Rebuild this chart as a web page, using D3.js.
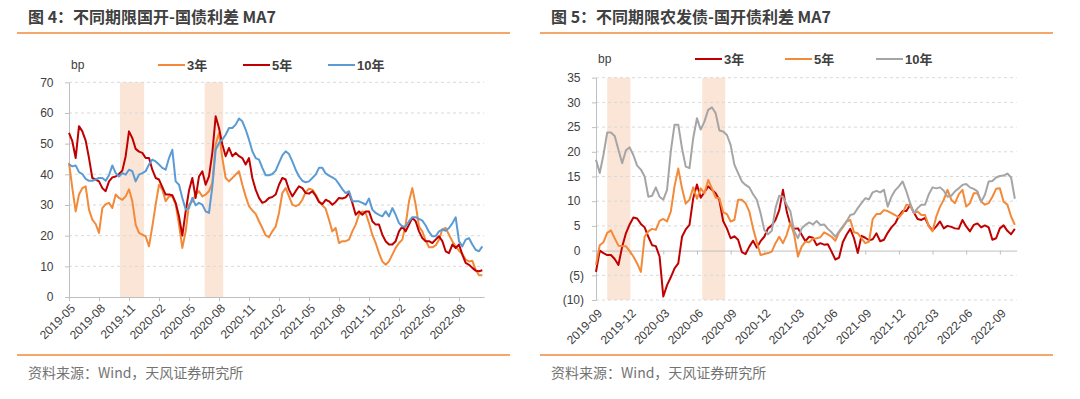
<!DOCTYPE html>
<html>
<head>
<meta charset="utf-8">
<script src="https://cdn.jsdelivr.net/npm/d3@7"></script>
<style>
  body { margin: 0; background: #fff; }
  svg { display: block; }
</style>
</head>
<body>
<script>
// ---- data (MA7 spreads, bp), sampled three times a month ----
const seriesNames = ["3年", "5年", "10年"];

// left: 国开-国债, first sample 2019-05-01
const leftStart = "2019-05";
const leftTicks = ["2019-05", "2019-08", "2019-11", "2020-02", "2020-05", "2020-08", "2020-11",
  "2021-02", "2021-05", "2021-08", "2021-11", "2022-02", "2022-05", "2022-08"];
const leftYTicks = [0, 10, 20, 30, 40, 50, 60, 70];
const leftBands = [["2019-10-04", "2019-12-17"], ["2020-06-18", "2020-08-14"]];
const left3y = [43.7, 35.5, 27.9, 33.4, 35.5, 36.1, 28.5, 25.2, 23.8, 20.9,
  29.0, 30.3, 30.7, 29.0, 33.4, 32.3, 31.7, 32.8, 35.1, 31.2,
  23.6, 20.9, 20.3, 19.8, 16.5, 23.0, 30.1, 36.6, 35.0, 31.2,
  32.8, 32.8, 30.1, 23.6, 16.0, 21.4, 30.1, 31.2, 33.4, 34.5,
  32.8, 33.4, 34.5, 37.2, 49.7, 53.5, 45.3, 38.8, 37.7, 38.8,
  39.9, 41.0, 36.6, 32.8, 29.6, 28.2, 27.1, 24.7, 22.5, 20.1,
  19.5, 21.4, 23.0, 27.4, 33.9, 35.5, 32.8, 30.1, 29.6, 30.1,
  31.7, 34.2, 35.3, 35.0, 33.4, 31.2, 29.9, 28.8, 25.2, 21.4,
  22.5, 17.6, 18.2, 18.2, 18.7, 21.4, 23.6, 26.8, 27.9, 27.4,
  24.1, 20.3, 17.6, 14.3, 11.6, 10.5, 11.6, 13.8, 16.0, 17.6,
  18.7, 23.6, 31.2, 35.5, 30.1, 23.0, 21.4, 18.4, 16.2, 16.2,
  16.8, 18.7, 22.0, 22.5, 20.3, 18.2, 16.5, 15.1, 14.0, 12.2,
  11.6, 11.8, 8.9, 7.1, 7.1];
const left5y = [53.5, 50.8, 45.3, 55.7, 54.0, 51.0, 45.3, 38.8, 38.3, 37.7,
  35.5, 34.5, 37.7, 39.0, 39.3, 40.1, 41.2, 45.9, 54.0, 51.8,
  48.3, 47.4, 47.0, 45.3, 45.3, 41.5, 38.8, 38.3, 35.8, 33.4,
  33.4, 33.2, 30.7, 26.3, 20.0, 27.9, 34.7, 38.8, 32.3, 39.3,
  41.0, 36.6, 39.3, 47.0, 58.9, 55.1, 49.7, 45.9, 48.6, 45.9,
  47.0, 45.9, 45.3, 43.2, 45.3, 38.8, 35.0, 32.3, 30.7, 31.2,
  32.3, 32.6, 33.4, 36.6, 38.8, 38.3, 35.0, 32.8, 34.5, 36.1,
  35.5, 33.9, 33.7, 34.5, 33.0, 31.0, 30.3, 31.7, 31.2, 30.1,
  31.0, 32.3, 32.1, 32.5, 33.9, 30.7, 26.8, 27.9, 26.8, 27.9,
  27.9, 24.7, 23.6, 23.6, 20.3, 18.2, 17.1, 17.1, 18.2, 21.4,
  23.0, 21.4, 23.6, 25.8, 24.7, 21.4, 19.2, 18.2, 18.2, 17.6,
  18.7, 19.8, 18.2, 14.9, 14.3, 17.1, 16.0, 17.1, 13.8, 11.1,
  10.5, 9.5, 8.6, 8.4, 8.7];
const left10y = [43.2, 42.6, 42.9, 40.7, 40.1, 38.5, 37.9, 37.9, 38.3, 38.8,
  38.8, 37.9, 39.7, 42.9, 40.4, 39.3, 40.4, 39.9, 41.5, 41.0,
  37.7, 39.9, 40.4, 41.0, 43.2, 44.8, 44.2, 43.2, 42.1, 41.5,
  45.3, 48.0, 37.7, 36.6, 32.3, 28.5, 29.0, 32.3, 29.9, 30.7,
  30.1, 27.9, 27.4, 36.0, 48.0, 50.2, 51.3, 52.9, 55.1, 55.1,
  56.2, 58.2, 57.3, 54.6, 51.3, 47.5, 45.3, 44.8, 42.1, 39.7,
  39.7, 40.1, 41.2, 43.7, 46.2, 47.5, 46.6, 44.2, 41.5, 39.3,
  37.9, 37.4, 37.7, 38.8, 39.9, 42.1, 42.1, 40.3, 39.6, 39.0,
  38.3, 36.8, 35.2, 33.9, 34.5, 31.2, 31.2, 31.2, 30.7, 30.1,
  32.1, 28.5, 27.4, 26.8, 26.3, 27.9, 26.3, 29.0, 26.8, 24.1,
  23.0, 23.0, 24.7, 26.0, 26.0, 25.5, 24.9, 23.3, 21.2, 19.8,
  19.8, 21.4, 22.0, 21.6, 22.5, 24.0, 26.0, 18.2, 16.5, 18.7,
  19.2, 17.1, 15.4, 14.9, 16.5];

// right: 农发债-国开债, first sample 2019-09-01
const rightStart = "2019-09";
const rightTicks = ["2019-09", "2019-12", "2020-03", "2020-06", "2020-09", "2020-12", "2021-03",
  "2021-06", "2021-09", "2021-12", "2022-03", "2022-06", "2022-09"];
const rightYTicks = [-10, -5, 0, 5, 10, 15, 20, 25, 30, 35];
const rightBands = [["2019-10-01", "2019-12-03"], ["2020-06-15", "2020-08-17"]];
const right3y = [-4.3, 0.0, -0.5, -0.9, -0.9, -1.7, -2.9, 0.8, 3.5, 5.3,
  6.7, 6.5, 5.4, 4.7, 2.8, 1.1, 0.9, -1.2, -9.3, -7.0,
  -5.4, -3.6, -2.6, 2.8, 4.3, 5.2, 10.6, 13.4, 10.7, 11.8,
  13.0, 12.3, 11.6, 10.2, 6.0, 4.5, 2.5, 2.9, 2.2, -0.3,
  -0.7, 0.8, 2.0, 0.6, 1.9, 2.8, 4.5, 5.1, 6.2, 8.2,
  12.3, 7.9, 5.2, 4.4, 4.5, 3.2, 1.9, 2.8, 2.6, 1.1,
  1.5, 1.2, 1.3, -0.2, -1.8, -1.4, 1.7, 3.2, 4.4, 2.5,
  -0.5, 3.0, 2.6, 2.1, 2.3, 3.5, 1.9, 2.2, 3.6, 4.7,
  5.5, 7.0, 8.0, 8.0, 9.3, 7.7, 6.4, 6.2, 6.6, 5.0,
  4.1, 4.9, 5.9, 4.5, 5.0, 4.8, 4.5, 4.4, 6.2, 4.9,
  3.9, 5.2, 5.5, 4.7, 5.1, 4.7, 2.2, 2.5, 4.5, 5.1,
  4.0, 3.3, 4.4];
const right5y = [-2.9, 1.1, 1.7, 3.6, 4.1, 2.5, 1.0, 0.9, 0.9, -0.1,
  -1.2, -2.6, -4.3, 2.8, 3.9, 4.4, 4.2, 6.0, 6.4, 5.9,
  7.9, 13.0, 16.6, 12.6, 9.5, 10.3, 12.8, 10.5, 12.6, 11.6,
  14.3, 12.6, 10.7, 10.6, 7.8, 7.4, 5.9, 6.2, 10.3, 10.3,
  9.6, 7.9, 4.5, 1.7, -0.9, -0.7, -0.5, -0.2, 1.5, 2.8,
  1.5, 3.2, 5.7, 3.2, -1.2, 0.8, 1.8, 1.7, 2.4, 2.5,
  2.7, 3.7, 3.3, 2.8, 2.0, 3.7, 4.7, 5.9, 6.2, 3.7,
  3.5, 2.5, 1.5, 1.8, 6.4, 7.4, 7.4, 8.2, 8.0, 7.6,
  7.2, 6.7, 7.6, 9.3, 9.1, 7.6, 7.9, 7.2, 7.2, 4.9,
  3.9, 6.9, 8.9, 10.3, 12.3, 10.3, 9.6, 11.4, 12.3, 8.9,
  9.6, 11.6, 11.6, 9.9, 9.3, 9.6, 10.9, 12.5, 12.6, 9.9,
  9.3, 6.9, 5.2];
const right10y = [18.4, 15.7, 19.4, 23.9, 23.9, 23.2, 20.4, 17.7, 20.3, 20.9,
  19.3, 17.2, 16.4, 15.0, 10.9, 11.1, 12.8, 10.9, 10.3, 12.3,
  20.1, 25.5, 25.5, 20.7, 17.0, 16.7, 22.8, 26.8, 24.5, 26.1,
  28.5, 29.0, 27.8, 24.3, 24.1, 23.4, 21.4, 17.4, 15.7, 14.0,
  13.3, 12.8, 11.4, 10.3, 7.6, 4.2, 3.3, 4.0, 8.6, 11.1,
  10.9, 9.3, 7.9, 3.9, 2.5, 4.5, 5.2, 5.7, 5.3, 6.0,
  5.2, 5.3, 4.4, 3.7, 2.8, 3.9, 4.9, 5.9, 7.2, 7.4,
  8.6, 9.6, 10.6, 10.4, 11.8, 12.1, 11.8, 12.3, 8.9, 10.9,
  12.2, 13.0, 14.0, 12.0, 9.6, 7.6, 8.6, 9.3, 9.3, 11.4,
  12.8, 12.6, 12.8, 12.1, 10.9, 11.1, 12.0, 12.6, 13.3, 13.5,
  12.8, 12.5, 12.0, 9.9, 11.3, 14.0, 14.1, 14.8, 15.1, 15.2,
  15.6, 14.8, 10.5];

// ---- drawing ----
const W = 1080, H = 399;
const ORANGE = "#f28a3a", RED = "#c00000", BLUE = "#5b9bd5", GRAY = "#a5a5a5";
const TEXT = "#404040";
const NUM_FONT = "'Liberation Sans', Arial, 'Noto Sans CJK SC', sans-serif";
const CJK_FONT = "'Noto Sans CJK SC', 'Liberation Sans', sans-serif";

const svg = d3.select("body").append("svg")
  .attr("width", W)
  .attr("height", H);

// month offset of "YYYY-MM" or "YYYY-MM-DD" from a "YYYY-MM" start
function monthIndex(s, start) {
  const [y, m, d] = s.split("-").map(Number);
  const [y0, m0] = start.split("-").map(Number);
  let idx = (y - y0) * 12 + (m - m0);
  if (d) idx += (d - 1) / new Date(y, m, 0).getDate();
  return idx;
}

function panel(o) {
  const g = svg.append("g");

  // title + rules
  g.append("text")
    .attr("x", o.left + 11).attr("y", 23)
    .attr("font-family", CJK_FONT).attr("font-size", 16).attr("font-weight", "bold")
    .attr("fill", TEXT)
    .text(o.title);
  g.append("line")
    .attr("x1", o.left).attr("x2", o.right).attr("y1", 33).attr("y2", 33)
    .attr("stroke", ORANGE).attr("stroke-width", 1.5);
  g.append("line")
    .attr("x1", o.left).attr("x2", o.right).attr("y1", 355).attr("y2", 355)
    .attr("stroke", ORANGE).attr("stroke-width", 1.5);
  g.append("text")
    .attr("x", o.left + 11).attr("y", 378)
    .attr("font-family", CJK_FONT).attr("font-size", 14)
    .attr("fill", "#737373")
    .text("资料来源：Wind，天风证券研究所");

  const x = d3.scaleLinear().domain([0, o.months]).range([o.px0, o.px1]);
  const y = d3.scaleLinear().domain(d3.extent(o.yTicks)).range([o.pyBottom, o.pyTop]);

  // shaded periods
  g.append("g").selectAll("rect")
    .data(o.bands)
    .join("rect")
    .attr("x", d => x(monthIndex(d[0], o.start)))
    .attr("width", d => x(monthIndex(d[1], o.start)) - x(monthIndex(d[0], o.start)))
    .attr("y", o.pyTop)
    .attr("height", o.pyBottom - o.pyTop)
    .attr("fill", "#fbe5d6");

  // dashed grid
  g.append("g").selectAll("line")
    .data(o.yTicks.filter(v => v !== 0 && v !== o.yTicks[0]))
    .join("line")
    .attr("x1", o.px0).attr("x2", o.px1)
    .attr("y1", d => y(d)).attr("y2", d => y(d))
    .attr("stroke", "#d9d9d9").attr("stroke-dasharray", "3,3");
  if (o.yTicks[0] < 0) {
    g.append("line")
      .attr("x1", o.px0).attr("x2", o.px1)
      .attr("y1", y(o.yTicks[0])).attr("y2", y(o.yTicks[0]))
      .attr("stroke", "#d9d9d9").attr("stroke-dasharray", "3,3");
  }

  // y axis
  const yAxis = g.append("g")
    .attr("transform", `translate(${o.px0},0)`)
    .call(d3.axisLeft(y).tickValues(o.yTicks).tickSize(4).tickSizeOuter(0).tickFormat(""));
  yAxis.selectAll("line, path").attr("stroke", "#bfbfbf");
  g.append("g").selectAll("text")
    .data(o.yTicks)
    .join("text")
    .attr("x", d => d < 0 ? o.px0 - 12 : o.px0 - 15.5)
    .attr("y", d => y(d))
    .attr("dy", "0.35em")
    .attr("text-anchor", "end")
    .attr("font-family", NUM_FONT).attr("font-size", 12)
    .attr("fill", TEXT)
    .text(d => d < 0 ? `(${-d})` : d);

  // x axis on the zero line
  const tickPos = o.ticks.map(t => monthIndex(t, o.start));
  const xAxis = g.append("g")
    .attr("transform", `translate(0,${y(0)})`)
    .call(d3.axisBottom(x).tickValues(tickPos).tickSize(4).tickSizeOuter(0).tickFormat(""));
  xAxis.selectAll("line, path").attr("stroke", "#bfbfbf");

  // rotated date labels at the bottom of the plot
  g.append("g").selectAll("text")
    .data(o.ticks)
    .join("text")
    .attr("transform", d => `translate(${x(monthIndex(d, o.start)) + 4},${o.pyBottom + o.labelGap}) rotate(-45)`)
    .attr("dy", "0.35em")
    .attr("text-anchor", "end")
    .attr("font-family", NUM_FONT).attr("font-size", 12)
    .attr("fill", TEXT)
    .text(d => d);

  // lines
  const line = d3.line()
    .x((d, i) => x(i / 3))
    .y(d => y(d))
    .curve(d3.curveLinear);
  g.append("g").selectAll("path")
    .data(o.series)
    .join("path")
    .attr("d", d => line(d.values))
    .attr("fill", "none")
    .attr("stroke", d => d.color)
    .attr("stroke-width", 2)
    .attr("stroke-linejoin", "round");

  // unit + legend
  g.append("text")
    .attr("x", o.px0 + 2).attr("y", o.legendY)
    .attr("dy", "0.35em")
    .attr("font-family", NUM_FONT).attr("font-size", 12)
    .attr("fill", TEXT)
    .text("bp");
  const lg = g.append("g").selectAll("g")
    .data(o.series)
    .join("g")
    .attr("transform", (d, i) => `translate(${o.legendX[i]},${o.legendY})`);
  lg.append("line")
    .attr("x1", 0).attr("x2", 27)
    .attr("stroke", d => d.color).attr("stroke-width", 2);
  lg.append("text")
    .attr("x", 29).attr("dy", "0.35em")
    .attr("font-family", NUM_FONT).attr("font-size", 13).attr("font-weight", "bold")
    .attr("fill", TEXT)
    .text(d => d.name);
}

panel({
  title: "图 4：不同期限国开-国债利差 MA7",
  left: 17, right: 510,
  px0: 69, px1: 484, pyTop: 82.3, pyBottom: 297,
  months: 41.5, start: leftStart,
  yTicks: leftYTicks, ticks: leftTicks, bands: leftBands,
  labelGap: 9,
  legendY: 65, legendX: [158, 243, 328],
  series: [
    { name: seriesNames[0], values: left3y, color: ORANGE },
    { name: seriesNames[1], values: left5y, color: RED },
    { name: seriesNames[2], values: left10y, color: BLUE }
  ]
});

panel({
  title: "图 5：不同期限农发债-国开债利差 MA7",
  left: 540, right: 1053,
  px0: 596, px1: 1016.7, pyTop: 77.7, pyBottom: 300,
  months: 37.5, start: rightStart,
  yTicks: rightYTicks, ticks: rightTicks, bands: rightBands,
  labelGap: 11,
  legendY: 59, legendX: [695, 785, 876],
  series: [
    { name: seriesNames[0], values: right3y, color: RED },
    { name: seriesNames[1], values: right5y, color: ORANGE },
    { name: seriesNames[2], values: right10y, color: GRAY }
  ]
});
</script>
</body>
</html>
